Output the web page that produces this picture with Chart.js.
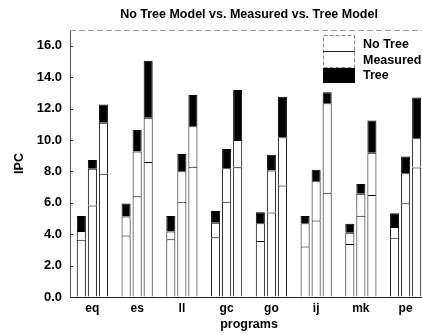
<!DOCTYPE html>
<html>
<head>
<meta charset="utf-8">
<script src="https://cdn.jsdelivr.net/npm/chart.js@4"></script>
<style>
  html, body { margin: 0; padding: 0; background: #fff; overflow: hidden; }
</style>
</head>
<body>
<canvas id="ipcChart" width="428" height="335"></canvas>
<script>
// programs on the x axis
const programs = ['eq', 'es', 'll', 'gc', 'go', 'ij', 'mk', 'pe'];

// three bars per program; each bar shows No Tree / Measured / Tree IPC levels
const noTree1   = [3.64, 3.92, 3.67, 3.81, 3.56, 3.22, 3.37, 3.77];
const measured1 = [4.20, 5.13, 4.17, 4.72, 4.70, 4.70, 4.09, 4.45];
const tree1     = [5.15, 5.95, 5.15, 5.47, 5.40, 5.15, 4.66, 5.34];

const noTree2   = [5.83, 6.42, 6.06, 6.06, 5.38, 4.87, 5.17, 5.97];
const measured2 = [8.16, 9.26, 8.00, 8.20, 8.05, 7.37, 6.57, 7.88];
const tree2     = [8.73, 10.64, 9.11, 9.43, 9.05, 8.11, 7.20, 8.94];

const noTree3   = [7.84, 8.60, 8.30, 8.26, 7.10, 6.63, 6.50, 8.24];
const measured3 = [11.10, 11.42, 10.87, 10.00, 10.17, 12.33, 9.19, 10.10];
const tree3     = [12.25, 15.04, 12.86, 13.18, 12.75, 13.03, 11.23, 12.71];

const yTicks = [0, 2, 4, 6, 8, 10, 12, 14, 16];

const FONT = 'Liberation Sans, Arial, sans-serif';
const edge = '#000';

// segment heights for stacking
const seg = (hi, lo) => hi.map((v, i) => +(v - lo[i]).toFixed(2));

function makeBar(stack, noTree, measured, tree) {
    return [
        { label: 'No Tree', stack, data: noTree, backgroundColor: '#fff', borderColor: edge, borderWidth: 1 },
        { label: 'Measured', stack, data: seg(measured, noTree), backgroundColor: '#fff', borderColor: edge, borderWidth: 1 },
        { label: 'Tree', stack, data: seg(tree, measured), backgroundColor: '#000', borderColor: edge, borderWidth: 1 },
    ];
}

const datasets = [
    ...makeBar('b1', noTree1, measured1, tree1),
    ...makeBar('b2', noTree2, measured2, tree2),
    ...makeBar('b3', noTree3, measured3, tree3),
];

// title, frame, inward ticks and stacked legend box
const decorations = {
    id: 'decorations',
    afterDraw(chart) {
        const { ctx, chartArea } = chart;
        const y = chart.scales.y;
        ctx.save();

        // title over the plot
        ctx.fillStyle = '#000';
        ctx.font = 'bold 12.5px ' + FONT;
        ctx.textAlign = 'center';
        ctx.textBaseline = 'middle';
        ctx.fillText('No Tree Model vs. Measured vs. Tree Model', (chartArea.left + chartArea.right) / 2, 15);

        // top frame line
        ctx.strokeStyle = '#999';
        ctx.lineWidth = 1;
        ctx.setLineDash([6, 3]);
        ctx.beginPath();
        ctx.moveTo(chartArea.left, chartArea.top + 0.5);
        ctx.lineTo(chartArea.right, chartArea.top + 0.5);
        ctx.stroke();
        ctx.setLineDash([]);

        // inward tick marks
        ctx.strokeStyle = '#333';
        yTicks.forEach(v => {
            const py = Math.round(y.getPixelForValue(v)) + 0.5;
            ctx.beginPath();
            ctx.moveTo(chartArea.left, py);
            ctx.lineTo(chartArea.left + 3, py);
            ctx.stroke();
        });

        // legend: three boxes stacked on each other
        const bx = 323, bw = 32;
        const rows = [
            { ds: datasets[0], top: 35, h: 16, ty: 45 },
            { ds: datasets[1], top: 51, h: 17, ty: 61 },
            { ds: datasets[2], top: 68, h: 15, ty: 76 },
        ];
        rows.forEach(r => {
            ctx.fillStyle = r.ds.backgroundColor;
            ctx.fillRect(bx, r.top, bw, r.h);
        });
        ctx.strokeStyle = '#888';
        ctx.setLineDash([4, 2]);
        ctx.strokeRect(bx + 0.5, 35.5, bw - 1, 32);
        ctx.setLineDash([]);
        ctx.strokeStyle = '#222';
        ctx.beginPath();
        ctx.moveTo(bx, 51.5);
        ctx.lineTo(bx + bw, 51.5);
        ctx.stroke();

        ctx.fillStyle = '#000';
        ctx.font = 'bold 12.5px ' + FONT;
        ctx.textAlign = 'left';
        rows.forEach(r => ctx.fillText(r.ds.label, 363, r.ty));

        ctx.restore();
    },
};

new Chart(document.getElementById('ipcChart'), {
    type: 'bar',
    data: { labels: programs, datasets },
    options: {
        responsive: false,
        animation: false,
        layout: { padding: { top: 30, right: 0, left: 0, bottom: 0 } },
        datasets: {
            bar: { categoryPercentage: 0.74, barPercentage: 0.82 },
        },
        plugins: {
            legend: { display: false },
            title: { display: false },
            tooltip: { enabled: false },
        },
        scales: {
            x: {
                stacked: true,
                grid: { drawOnChartArea: false, drawTicks: false },
                border: { display: true, color: '#222', width: 1 },
                ticks: { color: '#000', padding: 4, font: { family: FONT, size: 12, weight: 'bold' } },
                title: {
                    display: true, text: 'programs', color: '#000',
                    font: { family: FONT, size: 12.5, weight: 'bold' },
                    padding: { top: 0, bottom: 2.5 },
                },
                afterFit(scale) { scale.height = 38; },
            },
            y: {
                stacked: true,
                min: 0,
                max: 17,
                grid: { drawOnChartArea: false, drawTicks: false },
                border: { display: true, color: '#555', width: 1 },
                afterBuildTicks(scale) { scale.ticks = yTicks.map(v => ({ value: v })); },
                ticks: {
                    color: '#000', padding: 8,
                    font: { family: FONT, size: 13, weight: 'bold' },
                    callback: v => v.toFixed(1),
                },
                title: {
                    display: true, text: 'IPC', color: '#000',
                    font: { family: FONT, size: 12.5, weight: 'bold' },
                    padding: { top: 12.5, bottom: 0 },
                },
                afterFit(scale) { scale.width = 70; },
            },
        },
    },
    plugins: [decorations],
});
</script>
</body>
</html>
